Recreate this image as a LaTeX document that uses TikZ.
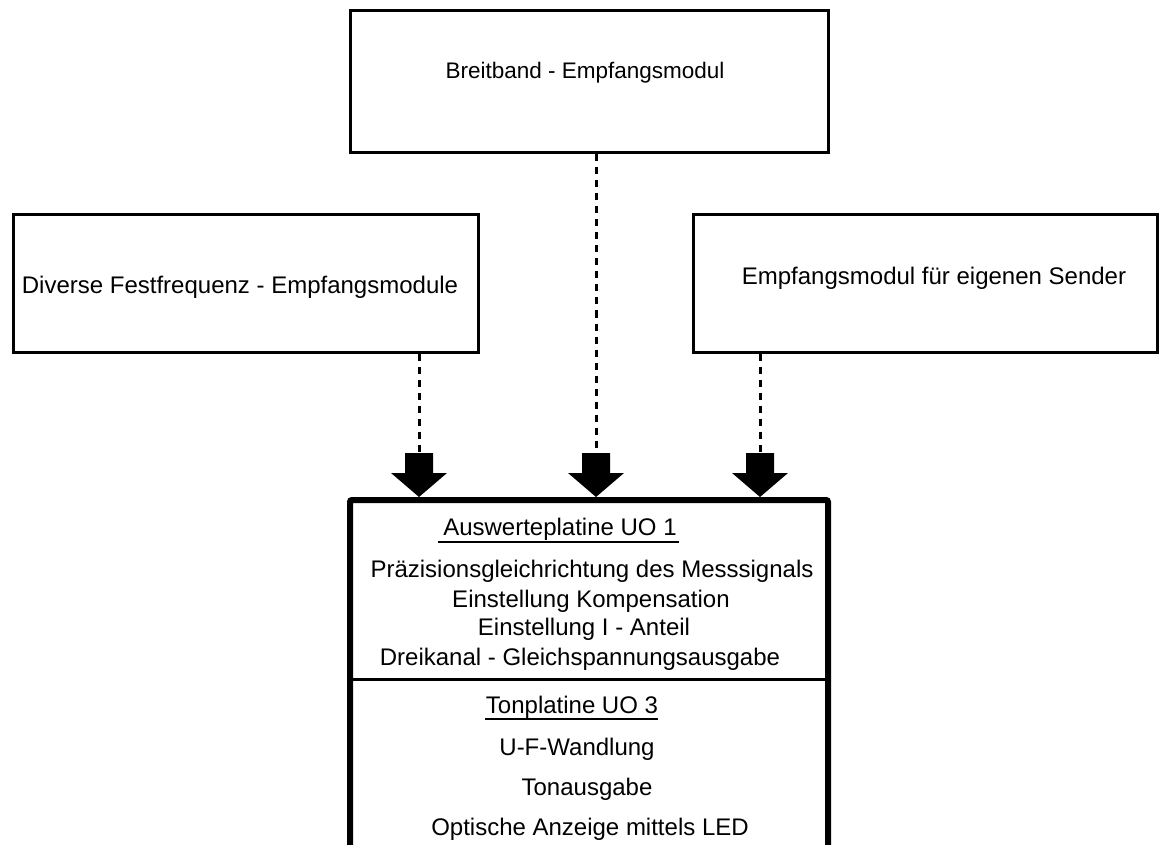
\documentclass[tikz,border=0pt]{standalone}
\usepackage{fontspec}
\setmainfont{Liberation Sans}
\usetikzlibrary{calc}
\tikzset{
  box/.style={draw=black, line width=3pt, fill=white, rectangle, inner sep=0pt},
  mainbox/.style={draw=black, line width=6pt, rectangle, inner sep=0pt, rounded corners=2pt},
  txt/.style={inner sep=0pt, font=\fontsize{24}{28}\selectfont, anchor=base},
  toptxt/.style={txt, font=\fontsize{22.5}{27}\selectfont},
  conn/.style={draw=black, line width=3pt, dash pattern=on 7pt off 6pt},
  uline/.style={draw=black, line width=2.5pt},
  divline/.style={draw=black, line width=3pt},
  blockarrow/.style={fill=black}
}
\begin{document}
\begin{tikzpicture}[x=1pt,y=-1pt]
\useasboundingbox (0,0) rectangle (1160,845);
\clip (0,0) rectangle (1160,845);
\fill[white] (0,0) rectangle (1160,845);

% boxes
\node[box, minimum width=478pt, minimum height=142pt] (top) at (589,82) {};
\node[box, minimum width=465pt, minimum height=137pt] (left) at (245.5,283.5) {};
\node[box, minimum width=464pt, minimum height=137pt] (right) at (925,283.5) {};
\node[mainbox, minimum width=478pt, minimum height=400pt] (main) at (589,700) {};

% box texts
\node[toptxt] (ttop) at (585,79) {Breitband - Empfangsmodul};
\node[txt] (tleft) at (240,294) {Diverse Festfrequenz - Empfangsmodule};
\node[txt] (tright) at (934,285) {Empfangsmodul\ für eigenen Sender};

% main box texts
\node[txt] (h1) at (560,535) {Auswerteplatine UO 1};
\node[txt] (a1) at (592,577) {Präzisionsgleichrichtung des Messsignals};
\node[txt] (a2) at (591,607) {Einstellung Kompensation};
\node[txt] (a3) at (584,635) {Einstellung I - Anteil};
\node[txt] (a4) at (580,665) {Dreikanal - Gleichspannungsausgabe};
\node[txt] (h2) at (572,713) {Tonplatine UO 3};
\node[txt] (b1) at (577,755) {U-F-Wandlung};
\node[txt] (b2) at (587,795) {Tonausgabe};
\node[txt] (b3) at (590,835) {Optische Anzeige mittels LED};

% underlines and divider
\coordinate (u1a) at (438,542); \coordinate (u1b) at (679,542);
\draw[uline] (u1a) -- (u1b);
\coordinate (u2a) at (485,719); \coordinate (u2b) at (658,719);
\draw[uline] (u2a) -- (u2b);
\coordinate (dv) at (0,679);
\draw[divline] (main.west |- dv) -- (main.east |- dv);

% arrow start points
\coordinate (s1) at (419,453);
\coordinate (s2) at (596,453);
\coordinate (s3) at (760,453);

% dotted connectors
\draw[conn] (left.south -| s1) -- (s1);
\draw[conn] (top.south -| s2) -- (s2);
\draw[conn] (right.south -| s3) -- (s3);

% block arrows
\foreach \s in {s1,s2,s3}{
  \fill[blockarrow] (\s) ++(-14,0) -- ++(28,0) -- ++(0,20) -- ++(14,0)
     -- (main.north -| \s) -- ($(\s)+(-28,20)$) -- ++(14,0) -- cycle;
}
\end{tikzpicture}
\end{document}
